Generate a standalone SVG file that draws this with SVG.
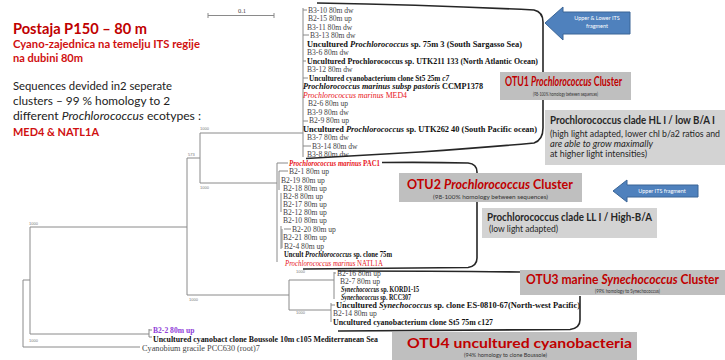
<svg xmlns="http://www.w3.org/2000/svg" width="725" height="360" viewBox="0 0 725 360">
<style>
.t{font-family:"Liberation Serif",serif;font-size:7.6px;fill:#444}
.b{font-weight:bold;fill:#111}
.i{font-style:italic}
.red{fill:#e8141b}
.pur{fill:#9040d8;font-weight:bold}
.br{fill:none;stroke:#262626;stroke-width:1.6}
.tl{stroke:#8a8a8a;stroke-width:1;fill:none}
.box{fill:#bfbfbf}
.cbox{fill:#d3d3d3}
.ttl{font-family:Lato,"Open Sans",sans-serif;font-weight:bold;fill:#c00000}
.sub{font-family:Lato,sans-serif;font-size:5px;fill:#333}
.ct{font-family:Lato,"Open Sans",sans-serif;fill:#262626}
.arrow{fill:#4f81bd;stroke:#3a6596;stroke-width:1}
.at{font-family:Lato,sans-serif;font-size:5.5px;fill:#fff;text-anchor:middle}
.bv{font-family:"Liberation Sans",sans-serif;font-size:4px;fill:#777}
.lt{font-family:Lato,"Open Sans",sans-serif}
</style>
<rect width="725" height="360" fill="#fff"/>

<g id="legend">
<text class="lt" x="13" y="34" font-size="15" font-weight="bold" fill="#c00000" textLength="134" lengthAdjust="spacingAndGlyphs">Postaja P150 – 80 m</text>
<text class="lt" x="13" y="48" font-size="11.5" font-weight="bold" fill="#d01010" textLength="187" lengthAdjust="spacingAndGlyphs">Cyano-zajednica na temelju ITS regije</text>
<text class="lt" x="13" y="62" font-size="11.5" font-weight="bold" fill="#d01010" textLength="70" lengthAdjust="spacingAndGlyphs">na dubini 80m</text>
<text class="lt" x="13" y="90" font-size="12" fill="#222" textLength="159" lengthAdjust="spacingAndGlyphs">Sequences devided in2 seperate</text>
<text class="lt" x="13" y="105" font-size="12" fill="#222" textLength="157" lengthAdjust="spacingAndGlyphs">clusters – 99 % homology  to 2</text>
<text class="lt" x="13" y="120" font-size="12" fill="#222" textLength="188" lengthAdjust="spacingAndGlyphs">different <tspan font-style="italic">Prochlorococcus</tspan> ecotypes :</text>
<text class="lt" x="13" y="136" font-size="12" font-weight="bold" fill="#d01010" textLength="86" lengthAdjust="spacingAndGlyphs">MED4 &amp;  NATL1A</text>
</g>

<g id="scale-bar">
<path class="tl" d="M208 15.5H274M208 13V18M274 13V18"/>
<text x="242" y="13" font-family="Liberation Serif,serif" font-size="6.5" fill="#444" text-anchor="middle">0.1</text>
</g>

<g id="connectors">
<path class="tl" d="M23 280V347H140M23 280H30M30 227V334H149M149 329V337M149 330H152M149 337H152"/>
<path class="tl" d="M30 227H187M187 158V295M187 158H200M200 133V183M200 133H303M200 183H277M187 295H289"/>
<path class="tl" d="M303 8V157M303 10H307M303 35H309M303 61H306M303 78H308M303 121H308M303 146H311"/>
<path class="tl" d="M277 163V262M277 163H288M279 171H288M279 171V190M281 193V212M281 226V249M284 229H291M282 229V248"/>
<path class="tl" d="M289 280V310M289 280H334M334 272V299M289 310H331M331 303V322M331 305H335M334 273H336"/>
<text class="bv" x="29" y="225">1000</text>
<text class="bv" x="29" y="342">1000</text>
<text class="bv" x="188" y="156">573</text>
<text class="bv" x="200" y="130">1000</text>
<text class="bv" x="200" y="189">1000</text>
<text class="bv" x="189" y="301">1000</text>
<text class="bv" x="296" y="273">1000</text>
<text class="bv" x="296" y="314">1000</text>
</g>

<g id="otu1-sequences">
<text class="t" x="308" y="12.5">B3-10 80m dw</text>
<text class="t" x="308" y="21">B2-15 80m up</text>
<text class="t" x="307" y="29.5">B3-11 80m dw</text>
<text class="t" x="310" y="38">B3-13 80m dw</text>
<text class="t b" x="307" y="46.5" textLength="215" lengthAdjust="spacingAndGlyphs">Uncultured <tspan class="i">Prochlorococcus</tspan> sp. 75m 3 (South Sargasso Sea)</text>
<text class="t" x="307" y="55">B3-6 80m dw</text>
<text class="t b" x="307" y="63.5" textLength="231" lengthAdjust="spacingAndGlyphs">Uncultured Prochlorococcus sp. UTK211 133 (North Atlantic Ocean)</text>
<text class="t" x="307" y="72">B3-12 80m dw</text>
<text class="t b" x="309" y="80.5" textLength="140" lengthAdjust="spacingAndGlyphs">Uncultured cyanobacterium clone St5 25m <tspan class="i">c7</tspan></text>
<text class="t b" x="303" y="89" textLength="180" lengthAdjust="spacingAndGlyphs"><tspan class="i">Prochlorococcus marinus subsp pastoris</tspan> CCMP1378</text>
<text class="t red" x="303" y="97.5" textLength="104" lengthAdjust="spacingAndGlyphs"><tspan class="i">Prochlorococcus marinus</tspan> MED4</text>
<text class="t" x="308" y="106">B2-6 80m up</text>
<text class="t" x="307" y="114.5">B3-9 80m dw</text>
<text class="t" x="309" y="123">B2-9 80m up</text>
<text class="t b" x="303" y="131.5" textLength="234" lengthAdjust="spacingAndGlyphs">Uncultured <tspan class="i">Prochlorococcus</tspan> sp. UTK262 40 (South Pacific ocean)</text>
<text class="t" x="307" y="140">B3-7 80m dw</text>
<text class="t" x="312" y="148.5">B3-14 80m dw</text>
<text class="t" x="307" y="157">B3-8 80m dw</text>
</g>

<g id="otu2-sequences">
<text class="t red b" x="289" y="165.5" textLength="91" lengthAdjust="spacingAndGlyphs"><tspan class="i">Prochlorococcus marinus</tspan> PAC1</text>
<text class="t" x="289" y="174">B2-1 80m up</text>
<text class="t" x="281" y="182.5">B2-19 80m up</text>
<text class="t" x="283" y="190.5">B2-18 80m up</text>
<text class="t" x="283" y="198.5">B2-8 80m up</text>
<text class="t" x="283" y="206.5">B2-17 80m up</text>
<text class="t" x="283" y="214.5">B2-12 80m up</text>
<text class="t" x="283" y="222.5">B2-10 80m up</text>
<text class="t" x="292" y="231.5">B2-20 80m up</text>
<text class="t" x="283" y="240">B2-21 80m up</text>
<text class="t" x="284" y="248.5">B2-4 80m up</text>
<text class="t b" x="284" y="257" textLength="108" lengthAdjust="spacingAndGlyphs">Uncult <tspan class="i">Prochlorococcus</tspan> sp. clone 75m</text>
<text class="t red" x="285" y="265.5" textLength="98" lengthAdjust="spacingAndGlyphs"><tspan class="i">Prochlorococcus marinus</tspan> NATL1A</text>
</g>

<g id="otu3-sequences">
<text class="t" x="337" y="276">B2-16 80m up</text>
<text class="t" x="340" y="283.5">B2-7 80m up</text>
<text class="t b" x="341" y="291.5" textLength="78" lengthAdjust="spacingAndGlyphs"><tspan class="i">Synechococcus</tspan> sp. KORD1-15</text>
<text class="t b" x="341" y="299.5" textLength="70" lengthAdjust="spacingAndGlyphs"><tspan class="i">Synechococcus</tspan> sp. RCC307</text>
<text class="t b" x="336" y="307.5" textLength="244" lengthAdjust="spacingAndGlyphs">Uncultured <tspan class="i">Synechococcus</tspan> sp. clone ES-0810-67(North-west Pacific)</text>
<text class="t" x="333" y="315.5">B2-14 80m up</text>
<text class="t b" x="333" y="324.5" textLength="160" lengthAdjust="spacingAndGlyphs">Uncultured cyanobacterium clone St5 75m c127</text>
</g>

<g id="otu4-sequences">
<text class="t pur" x="153" y="332.5">B2-2 80m up</text>
<text class="t b" x="153" y="341.5" textLength="225" lengthAdjust="spacingAndGlyphs">Uncultured cyanobact clone Boussole 10m c105 Mediterranean Sea</text>
<text class="t" x="142" y="350.5" textLength="118" lengthAdjust="spacingAndGlyphs">Cyanobium gracile  PCC630 (root)7</text>
</g>

<g id="brackets">
<path class="br" d="M317 3Q430 5 534 10Q543 12 543 22V128Q543 140 534 143Q480 148 420 152L306 158.5"/>
<path class="br" d="M382 162.5Q430 162 468 163Q477 164 477 172V258Q477 266 468 267.5L303 269"/>
<path class="br" d="M338 271Q440 271 520 272M580 296V320Q580 328 570 329.5L338 331"/>
</g>

<g id="arrow-upper-lower">
<polygon class="arrow" points="545,23 563,7 563,12 630,12 630,34 563,34 563,40"/>
<text class="at" x="597" y="20">Upper &amp; Lower ITS</text>
<text class="at" x="597" y="28">fragment</text>
</g>

<g id="otu1-box">
<rect class="box" x="500" y="72" width="131" height="28"/>
<text class="ttl" x="505" y="86" font-size="12.5" textLength="117" lengthAdjust="spacingAndGlyphs">OTU1 <tspan font-style="italic">Prochlorococcus</tspan> Cluster</text>
<text class="sub" x="533" y="95.5" textLength="65" lengthAdjust="spacingAndGlyphs">(98-100% homology between sequences)</text>
</g>

<g id="hl-box">
<rect class="cbox" x="545" y="110" width="180" height="55"/>
<text class="ct" x="550" y="124" font-size="11" font-weight="bold" textLength="165" lengthAdjust="spacingAndGlyphs">Prochlorococcus clade HL I / low B/A  I</text>
<text class="ct" x="550" y="137" font-size="9" textLength="170" lengthAdjust="spacingAndGlyphs">(high light adapted, lower chl b/a2 ratios and</text>
<text class="ct" x="550" y="147" font-size="9" font-style="italic" textLength="103" lengthAdjust="spacingAndGlyphs">are able to grow maximally</text>
<text class="ct" x="550" y="157" font-size="9" textLength="97" lengthAdjust="spacingAndGlyphs">at higher light intensities)</text>
</g>

<g id="otu2-box">
<rect class="box" x="399" y="173" width="183" height="29"/>
<text class="ttl" x="407" y="189" font-size="14" textLength="166" lengthAdjust="spacingAndGlyphs">OTU2 <tspan font-style="italic">Prochlorococcus</tspan> Cluster</text>
<text class="sub" x="433" y="198.5" textLength="115" lengthAdjust="spacingAndGlyphs">(98-100% homology between sequences)</text>
</g>

<g id="arrow-upper">
<polygon class="arrow" points="613,191 627,180 627,185 698,185 698,197 627,197 627,202"/>
<text class="at" x="662" y="193">Upper ITS fragment</text>
</g>

<g id="ll-box">
<rect class="cbox" x="482" y="208" width="175" height="30"/>
<text class="ct" x="487" y="221" font-size="11" font-weight="bold" textLength="165" lengthAdjust="spacingAndGlyphs">Prochlorococcus clade LL I / High-B/A</text>
<text class="ct" x="489" y="232" font-size="8.5" textLength="69" lengthAdjust="spacingAndGlyphs">(low light adapted)</text>
</g>

<g id="otu3-box">
<rect class="box" x="520" y="270" width="205" height="25"/>
<text class="ttl" x="526" y="284" font-size="14" textLength="193" lengthAdjust="spacingAndGlyphs">OTU3 marine <tspan font-style="italic">Synechococcus</tspan> Cluster</text>
<text class="sub" x="595" y="293" textLength="65" lengthAdjust="spacingAndGlyphs">(99% homology to Synechococcus)</text>
</g>

<g id="otu4-box">
<rect class="box" x="392" y="332" width="245" height="28"/>
<text class="ttl" x="407" y="348" font-size="14" textLength="225" lengthAdjust="spacingAndGlyphs">OTU4 uncultured cyanobacteria</text>
<text class="sub" x="464" y="357" textLength="83" lengthAdjust="spacingAndGlyphs">(94% homology to clone Boussole)</text>
</g>
</svg>
